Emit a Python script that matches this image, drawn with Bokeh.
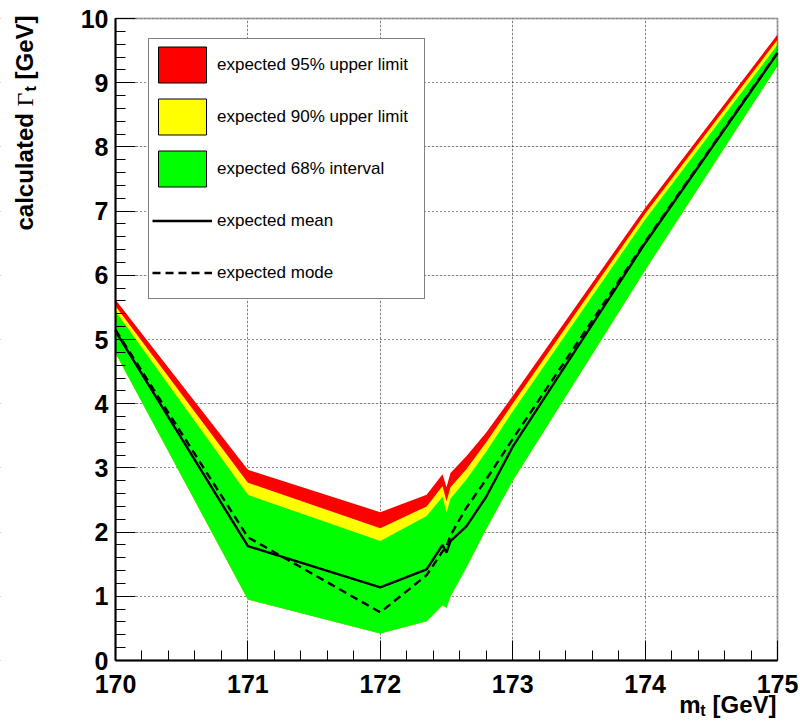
from bokeh.plotting import figure
from bokeh.models import (Range1d, FixedTicker, Label, Legend, LegendItem,
                          LinearAxis, Grid, BoxAnnotation)
from bokeh.embed import file_html
from bokeh.resources import INLINE
import numpy as np

# ---- data ----
mt   = [170.0, 171.0, 172.0, 172.35, 172.47, 172.50, 172.53, 172.65, 172.80, 173.0, 174.0, 175.0]
r95  = [5.62, 2.97, 2.31, 2.58, 2.90, 2.70, 2.92, 3.18, 3.55, 4.12, 7.05, 9.75]
r90  = [5.52, 2.77, 2.06, 2.40, 2.72, 2.48, 2.70, 2.98, 3.40, 4.00, 6.96, 9.67]
hi68 = [5.44, 2.58, 1.86, 2.25, 2.55, 2.30, 2.52, 2.82, 3.25, 3.88, 6.87, 9.59]
lo68 = [4.79, 0.95, 0.42, 0.61, 0.86, 0.82, 1.00, 1.45, 2.05, 2.80, 6.08, 9.26]
mean = [5.13, 1.78, 1.14, 1.42, 1.80, 1.68, 1.86, 2.09, 2.55, 3.33, 6.50, 9.46]
mode = [5.15, 1.92, 0.75, 1.33, 1.70, 1.78, 1.95, 2.38, 2.82, 3.45, 6.52, 9.47]

x_ticks = [170, 171, 172, 173, 174, 175]
y_ticks = [0, 1, 2, 3, 4, 5, 6, 7, 8, 9, 10]
legend_labels = ["expected 95% upper limit", "expected 90% upper limit",
                 "expected 68% interval", "expected mean", "expected mode"]

FONT = "Liberation Sans"
W, H = 800, 722
# pixel box of the data area inside the canvas
BL, BR, BT, BB = 115, 23, 18, 62
X0, X1, Y0, Y1 = 170.0, 175.0, 0.0, 10.0
sx = (W - BL - BR) / (X1 - X0)
sy = (H - BT - BB) / (Y1 - Y0)

p = figure(width=W, height=H,
           x_range=Range1d(X0 - BL / sx, X1 + BR / sx),
           y_range=Range1d(Y0 - BB / sy, Y1 + BT / sy),
           output_backend="svg", toolbar_location=None,
           x_axis_location=None, y_axis_location=None, min_border=0)
p.background_fill_color = "white"
p.border_fill_color = "white"
p.outline_line_color = None

# grid (dotted), masked outside the data box
gx = Grid(dimension=0, ticker=FixedTicker(ticks=x_ticks), grid_line_color="#1a1a1a",
          grid_line_dash="1 3", grid_line_width=1)
gy = Grid(dimension=1, ticker=FixedTicker(ticks=y_ticks), grid_line_color="#1a1a1a",
          grid_line_dash="1 3", grid_line_width=1)
p.add_layout(gx)
p.add_layout(gy)
for kw in (dict(right=X0), dict(left=X1), dict(top=Y0), dict(bottom=Y1)):
    p.add_layout(BoxAnnotation(fill_color="white", fill_alpha=1.0, line_alpha=0,
                               level="underlay", **kw))

# bands
p.varea(x=mt, y1=lo68, y2=r95, fill_color="#ff0000")
p.varea(x=mt, y1=lo68, y2=r90, fill_color="#ffff00")
p.varea(x=mt, y1=lo68, y2=hi68, fill_color="#00ff00")
l_mean = p.line(mt, mean, line_color="black", line_width=2.4)
l_mode = p.line(mt, mode, line_color="black", line_width=2.4, line_dash="8 5")

# frame box
p.add_layout(BoxAnnotation(left=X0, right=X1, bottom=Y0, top=Y1, fill_alpha=0,
                           line_color="black", line_width=2, level="overlay"))

# axes fixed at the data box edges
xminor = [round(170 + 0.2 * i, 2) for i in range(26) if i % 5 != 0]
yminor = [round(0.2 * i, 2) for i in range(51) if i % 5 != 0]
xax = LinearAxis(fixed_location=Y0, bounds=(X0, X1),
                 ticker=FixedTicker(ticks=x_ticks, minor_ticks=xminor))
yax = LinearAxis(fixed_location=X0, bounds=(Y0, Y1),
                 ticker=FixedTicker(ticks=y_ticks, minor_ticks=yminor))
for ax in (xax, yax):
    ax.axis_line_width = 2
    ax.axis_line_color = "black"
    ax.major_tick_in = 20
    ax.major_tick_out = 0
    ax.minor_tick_in = 10
    ax.minor_tick_out = 0
    ax.major_tick_line_width = 1
    ax.minor_tick_line_width = 1
    ax.major_label_text_font = FONT
    ax.major_label_text_font_style = "bold"
    ax.major_label_text_font_size = "25px"
    ax.major_label_text_color = "black"
xax.major_label_standoff = 14
yax.major_label_standoff = 7
p.add_layout(xax, "below")
p.add_layout(yax, "left")

# legend swatches (NaN geometry: only used for the legend)
nan = [float("nan")]
r_red = p.quad(left=nan, right=nan, top=nan, bottom=nan, fill_color="#ff0000", line_color="black", line_width=1)
r_yel = p.quad(left=nan, right=nan, top=nan, bottom=nan, fill_color="#ffff00", line_color="black", line_width=1)
r_grn = p.quad(left=nan, right=nan, top=nan, bottom=nan, fill_color="#00ff00", line_color="black", line_width=1)
items = [LegendItem(label=lab, renderers=[r]) for lab, r in
         zip(legend_labels, [r_red, r_yel, r_grn, l_mean, l_mode])]
legend = Legend(items=items, location=(148, H - 299), glyph_width=60, glyph_height=45,
                spacing=7, padding=3, margin=0, label_standoff=5, label_width=204,
                label_text_font=FONT, label_text_font_size="17px", label_text_color="black",
                border_line_color="black", border_line_width=1.2,
                background_fill_color="white", background_fill_alpha=1.0)
p.add_layout(legend)

# axis titles (built from pieces for the subscripts), placed by canvas pixel
def dx(px):
    return X0 + (px - BL) / sx
def dy(py):
    return Y0 + (H - BB - py) / sy

def lab(text, px, py, size, angle=0.0, align="left", font=FONT, style="bold"):
    p.add_layout(Label(x=dx(px), y=dy(py), text=text,
                       angle=angle, text_align=align, text_baseline="alphabetic",
                       text_font=font, text_font_style=style, text_font_size=size,
                       text_color="black"))

a = np.pi / 2
lab("calculated", 24, 230, "24px", angle=a)
lab("\u0393", 24, 106, "24px", angle=a, font="Liberation Serif", style="normal")
lab("t", 30, 91, "16px", angle=a)
lab("[GeV]", 24, 79, "24px", angle=a)

lab("[GeV]", 776, 704, "24px", align="right")
lab("t", 705, 710, "16px", align="right")
lab("m", 700, 704, "24px", align="right")

open("out.html", "w").write(file_html(p, INLINE))
